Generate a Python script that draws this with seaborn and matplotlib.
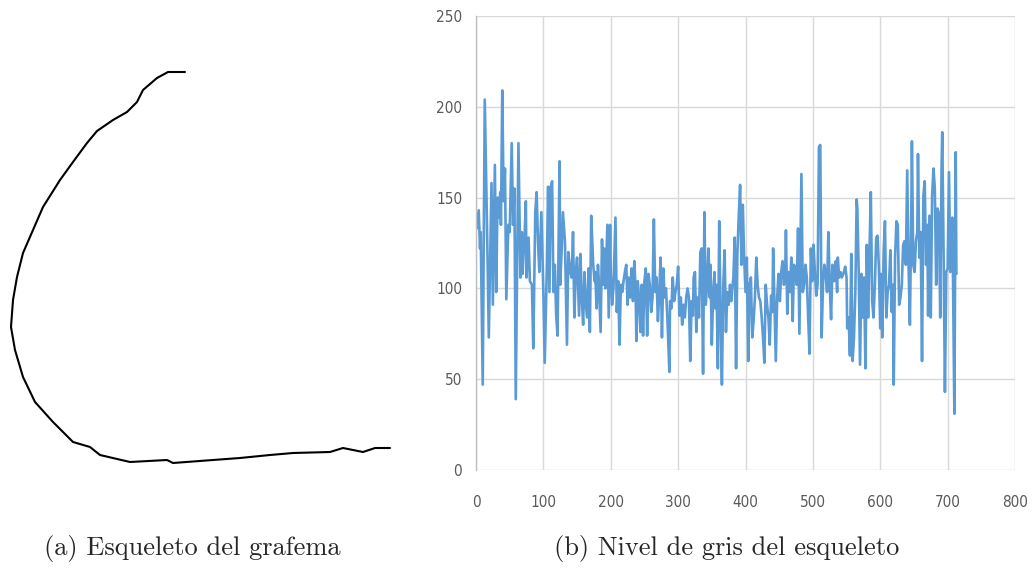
import matplotlib
matplotlib.use("Agg")
import matplotlib.pyplot as plt
import seaborn as sns

# skeleton of the grapheme (image pixel coords, y grows downwards)
SKEL_X = [185, 168, 157, 143, 137, 127, 113, 97, 87, 73, 60, 43, 33, 23, 17, 13, 11, 15, 23, 35, 53,
          73, 90, 100, 130, 167, 173, 213, 240, 270, 293, 330, 343, 363, 375, 390]
SKEL_Y = [72, 72, 78, 90, 102, 112, 120, 131, 143, 162, 180, 207, 230, 253, 277, 300, 327, 350, 377, 402, 422,
          442, 447, 455, 462, 460, 463, 460, 458, 455, 453, 452, 448, 452, 448, 448]

# grey level along the skeleton (sample index, value)
IDX = [1, 4, 6, 7, 10, 13, 16, 19, 23, 25, 28, 30, 32, 34, 36, 37, 39, 41, 43, 45, 48, 50, 53, 55, 57, 59,
       63, 66, 68, 69, 72, 74, 75, 78, 80, 83, 85, 88, 90, 92, 94, 97, 100, 102, 105, 107, 109, 111, 113,
       115, 117, 119, 121, 124, 125, 127, 129, 132, 135, 137, 140, 142, 144, 146, 148, 150, 153, 155, 157,
       159, 161, 163, 165, 167, 169, 171, 174, 176,
       177, 179, 181, 182, 185, 187, 189, 190, 192, 195, 197, 199, 200, 202, 204, 207, 209, 211, 213, 215,
       217, 219, 221, 223, 225, 227, 229, 231, 233, 235, 237, 238, 240, 242, 244, 246, 248, 250, 252, 254,
       256, 258, 260, 262, 264, 266, 268, 270, 272, 274, 276, 278, 280, 282, 284, 287, 288, 290, 292, 294,
       296, 298, 300, 302, 304, 306, 308, 310, 312, 314, 316, 318, 320, 322, 323, 325, 327, 329, 331, 333,
       335, 337, 339, 341, 343, 345, 347, 348, 350, 352, 354, 355,
       357, 359, 361, 363, 365, 367, 369, 371, 373, 375, 377, 379, 380, 382, 384, 386, 388, 390, 392, 394,
       396, 398, 400, 402, 404, 406, 408, 410, 412, 414, 416, 418, 420, 422, 424, 426, 428, 430, 432, 434,
       436, 438, 440, 441, 443, 445, 447, 449, 451, 453, 455, 457, 459, 460, 462, 464, 466, 468, 470, 472,
       474, 476, 478, 480, 483, 485, 487, 489, 491, 493, 495, 497, 499, 501, 503, 505, 507, 509, 511, 513,
       515, 517, 519, 521, 523, 525, 527, 529, 532,
       534, 536, 537, 539, 541, 543, 546, 548, 550, 551, 553, 555, 557, 559, 561, 563, 565, 566, 568, 570,
       572, 574, 576, 578, 580, 582, 584, 586, 588, 590, 592, 594, 596, 598, 600, 601, 603, 605, 607, 609,
       611, 613, 615, 617, 619, 620, 622, 624, 626, 628, 630, 632, 634, 636, 638, 640, 642, 644, 646, 647,
       649, 651, 653, 655, 656, 658, 660, 662, 664, 666, 668, 670, 671, 673, 675, 677, 679, 681, 683, 685,
       687, 689, 691, 692, 694, 696, 698, 700, 702, 704, 707, 708, 710, 712, 713]
GRIS = [133, 143, 122, 131, 47, 204, 142, 73, 158, 91, 168, 98, 150, 139, 153, 135, 209, 148, 166, 94, 135,
        131, 180, 135, 155, 39, 180, 106, 131, 108, 128, 148, 106, 128, 104, 102, 67, 142, 153, 126, 109,
        142, 98, 59, 109, 156, 98, 156, 159, 98, 113, 85, 74, 170, 102, 120, 142, 126, 69, 120, 109, 106,
        131, 84, 109, 117, 85, 119, 95, 80, 109, 91, 84, 111, 76, 140, 113, 104,
        109, 89, 113, 106, 76, 127, 102, 122, 100, 135, 84, 135, 109, 91, 100, 139, 87, 104, 69, 102,
        98, 104, 109, 113, 91, 106, 95, 111, 93, 115, 98, 71, 104, 95, 76, 102, 74, 104, 111, 74,
        108, 102, 87, 95, 138, 98, 106, 82, 98, 117, 73, 111, 95, 100, 84, 54, 93, 89, 106, 93,
        98, 102, 112, 85, 95, 80, 91, 84, 95, 100, 95, 60, 93, 85, 106, 109, 76, 95, 84, 120,
        122, 53, 142, 91, 102, 122, 95, 113, 69, 98, 109, 89,
        102, 56, 137, 84, 47, 102, 121, 76, 98, 91, 102, 93, 98, 106, 128, 56, 120, 140, 157, 113,
        146, 117, 98, 117, 60, 102, 106, 73, 82, 95, 117, 102, 95, 93, 84, 73, 59, 102, 91, 84,
        69, 96, 87, 122, 91, 60, 95, 108, 93, 109, 115, 102, 109, 132, 86, 109, 98, 117, 82, 113,
        109, 102, 133, 75, 163, 98, 102, 113, 106, 84, 64, 122, 104, 124, 109, 96, 102, 178, 179, 73,
        102, 113, 109, 98, 131, 102, 83, 113, 104,
        115, 98, 117, 106, 109, 106, 109, 112, 106, 78, 84, 63, 119, 60, 73, 98, 149, 144, 109, 58,
        108, 84, 106, 56, 124, 84, 120, 153, 93, 84, 102, 128, 129, 111, 78, 108, 73, 120, 137, 84,
        98, 102, 121, 87, 102, 47, 117, 137, 135, 91, 95, 102, 124, 126, 113, 165, 113, 80, 139, 181,
        113, 109, 126, 131, 174, 117, 131, 60, 151, 159, 113, 135, 85, 140, 84, 151, 166, 155, 102, 144,
        141, 84, 166, 186, 120, 43, 109, 111, 164, 109, 139, 106, 31, 175, 108]

X_TICKS = [0, 100, 200, 300, 400, 500, 600, 700, 800]
Y_TICKS = [0, 50, 100, 150, 200, 250]
CAPTION_A = "(a) Esqueleto del grafema"
CAPTION_B = "(b) Nivel de gris del esqueleto"

sns.set_style("white")
W, H = 1033, 572
fig = plt.figure(figsize=(W / 100, H / 100), dpi=100)

# left panel: skeleton drawing
ax1 = fig.add_axes([0, (H - 480) / H, 400 / W, 440 / H])
sns.lineplot(x=SKEL_X, y=SKEL_Y, sort=False, estimator=None, color="black", linewidth=1.5, ax=ax1)
ax1.set_xlim(0, 400)
ax1.set_ylim(480, 40)
ax1.axis("off")

# right panel: grey level chart
ax2 = fig.add_axes([476 / W, (H - 470) / H, 539 / W, 454 / H])
sns.lineplot(x=IDX, y=GRIS, color="#5B9BD5", linewidth=1.9, ax=ax2)
ax2.set_xlim(0, 800)
ax2.set_ylim(0, 250)
ax2.set_xticks(X_TICKS)
ax2.set_yticks(Y_TICKS)
ax2.grid(True, color="#d9d9d9", linewidth=1.0)
ax2.set_axisbelow(True)
for s in ["top", "right", "bottom"]:
    ax2.spines[s].set_visible(False)
ax2.spines["left"].set_color("#bfbfbf")
ax2.spines["left"].set_linewidth(1.0)
ax2.tick_params(length=0, colors="#595959", labelsize=11)
ax2.tick_params(axis="y", pad=10)
ax2.tick_params(axis="x", pad=18)
ax2.set_xlabel("")
ax2.set_ylabel("")
for lab in ax2.get_xticklabels() + ax2.get_yticklabels():
    lab.set_family(["Liberation Sans Narrow", "DejaVu Sans"])
    lab.set_fontstretch("condensed")

fig.text(192 / W, 1 - 549 / H, CAPTION_A, family="cmr10", fontsize=19, ha="center", va="center")
fig.text(727 / W, 1 - 549 / H, CAPTION_B, family="cmr10", fontsize=19, ha="center", va="center")

fig.savefig("out.png", dpi=100)
